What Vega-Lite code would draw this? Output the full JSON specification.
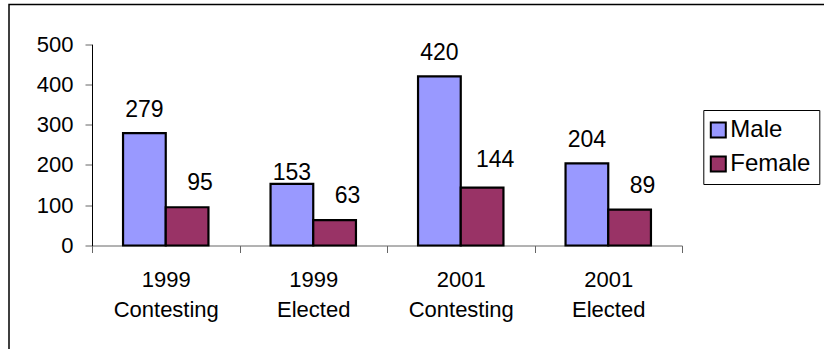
{
  "$schema": "https://vega.github.io/schema/vega-lite/v6.json",
  "autosize": {"type": "none"},
  "padding": {"left": 9, "top": 4.5, "right": 0, "bottom": 0},
  "width": 815,
  "height": 344.5,
  "background": "white",
  "view": {"stroke": "black", "strokeWidth": 1.5, "strokeDash": [815, 1159.5, 344.5], "fill": "white"},
  "config": {
    "font": "Liberation Sans",
    "axis": {"labelFont": "Liberation Sans", "labelColor": "black", "tickColor": "#666666", "domainWidth": 1, "tickWidth": 1, "grid": false, "title": null},
    "legend": {"labelFont": "Liberation Sans"}
  },
  "data": {
    "values": [
      {"group": "1999 Contesting", "gender": "Male", "count": 279},
      {"group": "1999 Contesting", "gender": "Female", "count": 95},
      {"group": "1999 Elected", "gender": "Male", "count": 153},
      {"group": "1999 Elected", "gender": "Female", "count": 63},
      {"group": "2001 Contesting", "gender": "Male", "count": 420},
      {"group": "2001 Contesting", "gender": "Female", "count": 144},
      {"group": "2001 Elected", "gender": "Male", "count": 204},
      {"group": "2001 Elected", "gender": "Female", "count": 89}
    ]
  },
  "encoding": {
    "x": {
      "field": "group",
      "type": "nominal",
      "sort": null,
      "scale": {"range": [83, 673], "paddingInner": 0, "paddingOuter": 0},
      "axis": {
        "offset": -103.5,
        "domainColor": "#666666",
        "tickBand": "extent",
        "tickSize": 7,
        "labelAngle": 0,
        "labelAlign": "center",
        "labelBaseline": "top",
        "labelExpr": "split(datum.label, ' ')",
        "labelFontSize": 22,
        "labelLineHeight": 30,
        "labelPadding": 17
      }
    },
    "xOffset": {
      "field": "gender",
      "type": "nominal",
      "sort": ["Male", "Female"],
      "scale": {"domain": ["Male", "Female"], "paddingInner": 0, "paddingOuter": 0.727}
    },
    "y": {
      "field": "count",
      "type": "quantitative",
      "scale": {"domain": [0, 500], "range": [241, 39.7], "nice": false, "zero": true},
      "axis": {
        "offset": -83,
        "domainColor": "black",
        "values": [0, 100, 200, 300, 400, 500],
        "tickSize": 7,
        "labelFontSize": 22,
        "labelPadding": 12
      }
    }
  },
  "layer": [
    {
      "mark": {"type": "bar", "stroke": "black", "strokeWidth": 2.2},
      "encoding": {
        "color": {
          "field": "gender",
          "type": "nominal",
          "scale": {"domain": ["Male", "Female"], "range": ["#9999FF", "#993366"]},
          "legend": {
            "orient": "none",
            "legendX": 694.3,
            "legendY": 105.5,
            "title": null,
            "direction": "vertical",
            "fillColor": "white",
            "strokeColor": "black",
            "padding": 8,
            "symbolType": "square",
            "symbolSize": 225,
            "symbolOffset": -5,
            "symbolStrokeColor": "black",
            "symbolStrokeWidth": 2,
            "symbolOpacity": 1,
            "labelFontSize": 24,
            "labelColor": "black",
            "labelOffset": 0,
            "rowPadding": 10
          }
        }
      }
    },
    {
      "transform": [{"filter": "datum.gender == 'Male'"}],
      "mark": {"type": "text", "baseline": "alphabetic", "dy": {"expr": "datum.count == 153 ? -4 : -16"}, "fontSize": 23, "color": "black"},
      "encoding": {"text": {"field": "count", "type": "quantitative"}}
    },
    {
      "transform": [{"filter": "datum.gender == 'Female'"}],
      "mark": {"type": "text", "baseline": "alphabetic", "dx": 13, "dy": {"expr": "datum.count == 144 ? -21 : -17"}, "fontSize": 23, "color": "black"},
      "encoding": {"text": {"field": "count", "type": "quantitative"}}
    }
  ]
}
